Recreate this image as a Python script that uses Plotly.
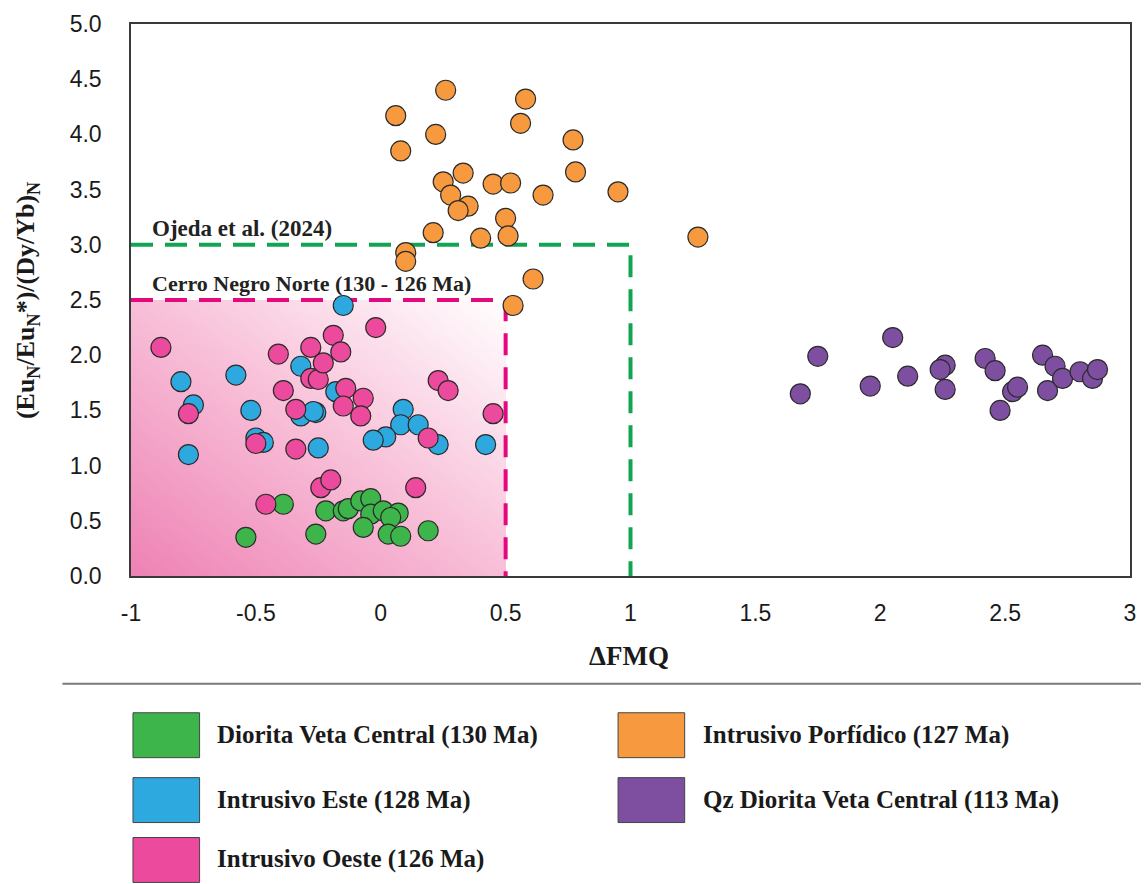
import numpy as np
import plotly.graph_objects as go

# ---------------- data ----------------
series_names = [
    "Diorita Veta Central (130 Ma)",
    "Intrusivo Este (128 Ma)",
    "Intrusivo Oeste (126 Ma)",
    "Intrusivo Porfídico (127 Ma)",
    "Qz Diorita Veta Central (113 Ma)",
]
series_colors = ["#3DB54A", "#2EA9DF", "#EC4A9C", "#F7993F", "#7E4FA1"]

green_x = [-0.54, -0.39, -0.26, -0.22, -0.15, -0.13, -0.08, -0.04, -0.04, -0.07, 0.01, 0.07, 0.04, 0.03, 0.08, 0.19]
green_y = [0.35, 0.65, 0.38, 0.59, 0.59, 0.61, 0.68, 0.70, 0.56, 0.44, 0.59, 0.57, 0.53, 0.38, 0.36, 0.41]

blue_x = [-0.15, -0.80, -0.58, -0.75, -0.52, -0.77, -0.50, -0.47, -0.32, -0.32, -0.26, -0.25, -0.18, 0.09, 0.08, 0.15, 0.02, -0.03, 0.23, 0.42, -0.27]
blue_y = [2.45, 1.76, 1.82, 1.55, 1.50, 1.10, 1.25, 1.21, 1.90, 1.45, 1.48, 1.16, 1.67, 1.51, 1.37, 1.37, 1.26, 1.23, 1.19, 1.19, 1.49]

pink_x = [-0.88, -0.77, -0.41, -0.39, -0.34, -0.28, -0.28, -0.25, -0.23, -0.19, -0.16, -0.02, -0.14, -0.15, -0.07, -0.08, -0.50, -0.34, 0.23, 0.27, 0.19, 0.45, -0.24, -0.20, 0.14, -0.46]
pink_y = [2.07, 1.47, 2.01, 1.68, 1.51, 2.07, 1.79, 1.78, 1.93, 2.18, 2.03, 2.25, 1.70, 1.54, 1.61, 1.45, 1.20, 1.15, 1.77, 1.68, 1.25, 1.47, 0.80, 0.87, 0.80, 0.65]

orange_x = [0.26, 0.58, 0.06, 0.56, 0.22, 0.77, 0.08, 0.33, 0.78, 0.25, 0.45, 0.52, 0.95, 0.65, 0.28, 0.35, 0.31, 0.50, 0.21, 0.40, 0.51, 1.27, 0.10, 0.10, 0.61, 0.53]
orange_y = [4.40, 4.32, 4.17, 4.10, 4.00, 3.95, 3.85, 3.65, 3.66, 3.57, 3.55, 3.56, 3.48, 3.45, 3.45, 3.35, 3.31, 3.24, 3.11, 3.06, 3.08, 3.07, 2.93, 2.85, 2.69, 2.45]

purple_x = [1.68, 1.75, 1.96, 2.05, 2.11, 2.26, 2.24, 2.26, 2.42, 2.46, 2.48, 2.53, 2.55, 2.65, 2.70, 2.67, 2.73, 2.80, 2.85, 2.87]
purple_y = [1.65, 1.99, 1.72, 2.16, 1.81, 1.91, 1.87, 1.69, 1.97, 1.86, 1.50, 1.67, 1.71, 2.00, 1.90, 1.68, 1.79, 1.85, 1.79, 1.87]

series_x = [green_x, blue_x, pink_x, orange_x, purple_x]
series_y = [green_y, blue_y, pink_y, orange_y, purple_y]

x_tickvals = [-1, -0.5, 0, 0.5, 1, 1.5, 2, 2.5, 3]
x_ticktext = ["-1", "-0.5", "0", "0.5", "1", "1.5", "2", "2.5", "3"]
y_tickvals = [0, 0.5, 1, 1.5, 2, 2.5, 3, 3.5, 4, 4.5, 5]

# reference fields
ojeda_x_max, ojeda_y_max = 1.0, 3.0
cnn_x_max, cnn_y_max = 0.5, 2.5
field_labels = ["Ojeda et al. (2024)", "Cerro Negro Norte (130 - 126 Ma)"]

# ---------------- figure ----------------
W, H = 1147, 884
ML, MR, MT, MB = 131, 11, 23, 308
PW, PH = W - ML - MR, H - MT - MB


def px2paper(px, py):
    return (px - ML) / PW, (H - MB - py) / PH


fig = go.Figure()

# gradient fill of the Cerro Negro Norte field
nx, ny = 150, 100
xe = np.linspace(-1, cnn_x_max, nx + 1)
ye = np.linspace(0, cnn_y_max, ny + 1)
xc = (xe[:-1] + xe[1:]) / 2
yc = (ye[:-1] + ye[1:]) / 2
XX, YY = np.meshgrid(xc, yc)
Z = ((XX + 1) / (cnn_x_max + 1) + YY / cnn_y_max) / 2
fig.add_trace(go.Heatmap(
    x=xe, y=ye, z=Z, zmin=0, zmax=1,
    colorscale=[[0, "#EE82B4"], [0.5, "#F8BFD8"], [1, "#FFFFFF"]],
    showscale=False, hoverinfo="skip", zsmooth="fast",
))

# dashed field outlines
fig.add_trace(go.Scatter(
    x=[-1, ojeda_x_max, ojeda_x_max], y=[ojeda_y_max, ojeda_y_max, 0],
    mode="lines", line=dict(color="#12A551", width=4, dash="22px,12px"),
    hoverinfo="skip", showlegend=False,
))
fig.add_trace(go.Scatter(
    x=[-1, cnn_x_max, cnn_x_max], y=[cnn_y_max, cnn_y_max, 0],
    mode="lines", line=dict(color="#E4097F", width=4, dash="22px,12px"),
    hoverinfo="skip", showlegend=False,
))

for name, col, xs, ys in zip(series_names, series_colors, series_x, series_y):
    fig.add_trace(go.Scatter(
        x=xs, y=ys, mode="markers", name=name, showlegend=False,
        marker=dict(size=20, color=col, line=dict(color="#2b2b2b", width=1.2)),
    ))

serif = "Liberation Serif"
sans = "Liberation Sans"

fig.update_layout(
    width=W, height=H,
    margin=dict(l=ML, r=MR, t=MT, b=MB),
    paper_bgcolor="white", plot_bgcolor="white",
    showlegend=False,
    xaxis=dict(
        range=[-1, 3], tickvals=x_tickvals, ticktext=x_ticktext,
        showgrid=False, zeroline=False, showline=True, mirror=True,
        linecolor="#3a3a3a", linewidth=1.5, ticks="", ticklabelstandoff=16,
        tickfont=dict(family=sans, size=23, color="#1a1a1a"),
    ),
    yaxis=dict(
        range=[0, 5], tickvals=y_tickvals, tickformat=".1f",
        showgrid=False, zeroline=False, showline=True, mirror=True,
        linecolor="#3a3a3a", linewidth=1.5, ticks="", ticklabelstandoff=23,
        tickfont=dict(family=sans, size=23, color="#1a1a1a"),
    ),
)

annotations = []
# axis titles
ax_, ay_ = px2paper(632, 656)
annotations.append(dict(x=ax_, y=ay_, xref="paper", yref="paper", text="<b>ΔFMQ</b>",
                        xanchor="center", yanchor="middle",
                        showarrow=False, font=dict(family=serif, size=27, color="#1a1a1a")))
ax_, ay_ = px2paper(27, 300)
annotations.append(dict(x=ax_, y=ay_, xref="paper", yref="paper",
                        text="<b>(Eu<sub>N</sub>/Eu<sub>N</sub>*)/(Dy/Yb)<sub>N</sub></b>",
                        xanchor="center", yanchor="middle",
                        textangle=-90, showarrow=False,
                        font=dict(family=serif, size=26, color="#1a1a1a")))
# field labels
annotations.append(dict(x=-0.925, y=ojeda_y_max, xref="x", yref="y", text="<b>" + field_labels[0] + "</b>",
                        xanchor="left", yanchor="bottom", yshift=2, showarrow=False,
                        font=dict(family=serif, size=23, color="#222222")))
annotations.append(dict(x=-0.925, y=cnn_y_max, xref="x", yref="y", text="<b>" + field_labels[1] + "</b>",
                        xanchor="left", yanchor="bottom", yshift=2, showarrow=False,
                        font=dict(family=serif, size=22, color="#222222")))

shapes = []
# separator line
x0p, y0p = px2paper(62, 684)
x1p, _ = px2paper(1147, 684)
shapes.append(dict(type="line", xref="paper", yref="paper", x0=x0p, x1=x1p, y0=y0p, y1=y0p,
                   line=dict(color="#7a7a7a", width=2)))

# custom legend (2 columns)
legend_pos = [(133, 713), (133, 778), (133, 838), (621, 713), (621, 778)]
for (lx, ly), name, col in zip(legend_pos, series_names, series_colors):
    ax0, ay0 = px2paper(lx, ly)
    ax1, ay1 = px2paper(lx + 67, ly + 45)
    shapes.append(dict(type="rect", xref="paper", yref="paper", x0=ax0, x1=ax1, y0=ay1, y1=ay0,
                       fillcolor=col, line=dict(color="#444444", width=1)))
    tx, ty = px2paper(lx + 83, ly + 22)
    annotations.append(dict(x=tx, y=ty, xref="paper", yref="paper", text="<b>" + name + "</b>",
                            xanchor="left", yanchor="middle", showarrow=False,
                            font=dict(family=serif, size=25, color="#1a1a1a")))

fig.update_layout(annotations=annotations, shapes=shapes)
fig.write_html("out.html")
